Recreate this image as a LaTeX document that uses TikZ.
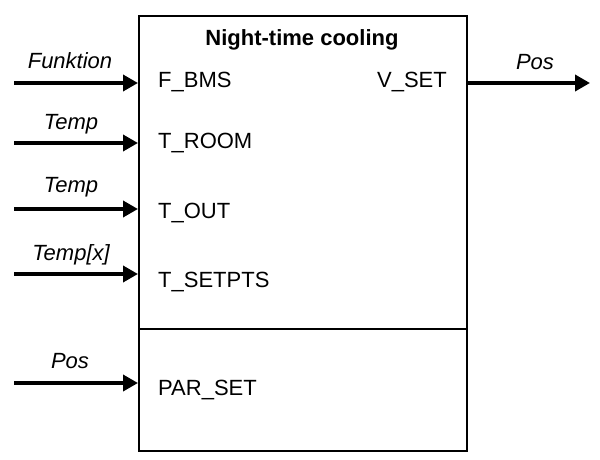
\documentclass[tikz,border=0pt]{standalone}
\usepackage{fontspec}
\setmainfont{Liberation Sans}
\usetikzlibrary{arrows.meta}
\begin{document}
\begin{tikzpicture}[x=1pt,y=-1pt,
  sig/.style={line width=3.6pt,-{Triangle[length=15pt,width=16pt]}},
  port/.style={anchor=base west,inner sep=0pt,font=\fontsize{22}{26}\selectfont},
  lbl/.style={anchor=base,inner sep=0pt,font=\fontsize{22}{26}\selectfont\itshape},
  blk/.style={draw,line width=1.8pt}]
\useasboundingbox (0,0) rectangle (600,460);
% block
\node[blk,minimum width=328pt,minimum height=435pt,inner sep=0pt,anchor=north west] (box) at (138,15) {};
\draw[line width=1.8pt] (box.west |- 0,329) coordinate (dl) -- (box.east |- 0,329) coordinate (dr);
\node[anchor=base,inner sep=0pt,font=\fontsize{22}{26}\selectfont\bfseries] (title) at (302,46) {Night-time cooling};
% ports
\node[port] (pF) at (158,88) {F\_BMS};
\node[port] (pR) at (158,148) {T\_ROOM};
\node[port] (pO) at (158,218) {T\_OUT};
\node[port] (pS) at (158,287) {T\_SETPTS};
\node[port] (pP) at (158,395) {PAR\_SET};
\node[anchor=base east,inner sep=0pt,font=\fontsize{22}{26}\selectfont] (pV) at (447,88) {V\_SET};
% connector points
\coordinate (sF) at (14,83);  \coordinate (eF) at (138,83);
\coordinate (sR) at (14,143); \coordinate (eR) at (138,143);
\coordinate (sO) at (14,209); \coordinate (eO) at (138,209);
\coordinate (sS) at (14,274); \coordinate (eS) at (138,274);
\coordinate (sP) at (14,383); \coordinate (eP) at (138,383);
\coordinate (sV) at (466,83); \coordinate (eV) at (590,83);
\draw[sig] (sF) -- (eF);
\draw[sig] (sR) -- (eR);
\draw[sig] (sO) -- (eO);
\draw[sig] (sS) -- (eS);
\draw[sig] (sP) -- (eP);
\draw[sig] (sV) -- (eV);
% signal labels
\node[lbl] (lF) at (70,69) {Funktion};
\node[lbl] (lR) at (71,129) {Temp};
\node[lbl] (lO) at (71,192) {Temp};
\node[lbl] (lS) at (71,260) {Temp[x]};
\node[lbl] (lP) at (70,368) {Pos};
\node[lbl] (lV) at (535,70) {Pos};
\end{tikzpicture}
\end{document}
